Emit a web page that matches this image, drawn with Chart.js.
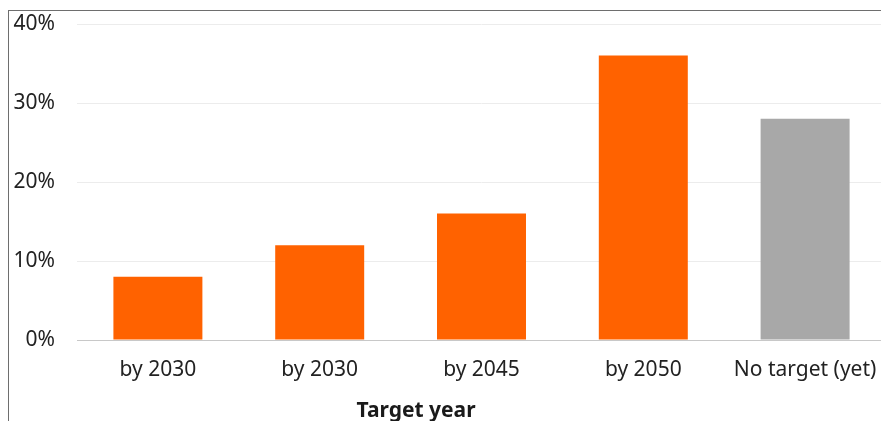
<!DOCTYPE html>
<html>
<head>
<meta charset="utf-8">
<script src="https://cdn.jsdelivr.net/npm/chart.js@4.4.1/dist/chart.umd.min.js"></script>
<style>
  html, body { margin: 0; padding: 0; background: #fff; overflow: hidden; width: 881px; height: 421px; }
  #wrap { position: absolute; left: 0; top: 0; width: 887px; height: 421px; }
  #frameL { position: absolute; left: 8px; top: 10px; width: 1px; height: 411px; background: #6e6e6e; }
  #frameT { position: absolute; left: 8px; top: 10px; width: 873px; height: 1px; background: #6e6e6e; }
  #xtitle { position: absolute; left: 416px; top: 395px; transform: translateX(-50%); font-family: "Noto Sans", sans-serif; font-weight: bold; font-size: 21px; color: #1a1a1a; white-space: nowrap; }
</style>
</head>
<body>
<div id="wrap"><canvas id="c" width="887" height="421"></canvas></div>
<div id="frameL"></div>
<div id="frameT"></div>
<div id="xtitle">Target year</div>
<script>
const categories = ["by 2030", "by 2030", "by 2045", "by 2050", "No target (yet)"];
const shareValues = [8, 12, 16, 36, 28];
const barColors = ["#FF6200", "#FF6200", "#FF6200", "#FF6200", "#A8A8A8"];
const yTicks = [0, 10, 20, 30, 40];
const xAxisTitle = "Target year";

const fontFamily = '"Noto Sans", sans-serif';

new Chart(document.getElementById("c"), {
  type: "bar",
  data: {
    labels: categories,
    datasets: [{
      data: shareValues,
      backgroundColor: barColors,
      borderWidth: 0,
      barPercentage: 0.55,
      categoryPercentage: 1.0
    }]
  },
  options: {
    responsive: false,
    animation: false,
    devicePixelRatio: 1,
    layout: { padding: { top: 24, right: 1, left: 0, bottom: 0 } },
    plugins: { legend: { display: false }, tooltip: { enabled: false } },
    scales: {
      x: {
        grid: { display: false, drawTicks: false },
        border: { display: true, color: "#c8c8c8", width: 1 },
        ticks: { color: "#222", font: { family: fontFamily, size: 21 }, padding: 17, maxRotation: 0, autoSkip: false },
        afterFit: (s) => { s.height = 81; s.paddingLeft = 0; s.paddingRight = 0; s.paddingTop = 0; s.paddingBottom = 0; }
      },
      y: {
        min: 0, max: 40,
        afterBuildTicks: (s) => { s.ticks = yTicks.map(v => ({ value: v })); },
        grid: { color: (ctx) => ctx.tick && ctx.tick.value === 0 ? "#c8c8c8" : "#ececec", drawTicks: false, lineWidth: 1 },
        border: { display: false },
        ticks: { color: "#222", font: { family: fontFamily, size: 21 }, padding: 22, callback: (v) => v + "%" },
        afterFit: (s) => { s.width = 77; s.paddingLeft = 0; s.paddingRight = 0; s.paddingTop = 0; s.paddingBottom = 0; }
      }
    }
  }
});
</script>
</body>
</html>
